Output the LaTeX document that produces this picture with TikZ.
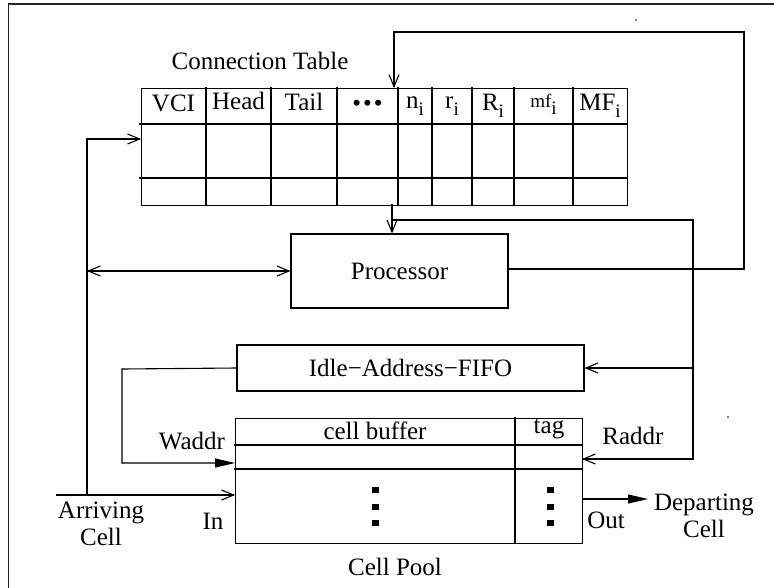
\documentclass[tikz,border=0pt]{standalone}
\usepackage{fontspec}
\setmainfont{Liberation Serif}
\usetikzlibrary{arrows.meta}
\tikzset{
  ln/.style={line width=1.1pt, line cap=rect},
  oarr/.style={ln, -{Straight Barb[length=12pt,width=10pt,line width=1.1pt]}},
  farr/.style={ln, -{Triangle[length=20pt,width=9pt]}},
  box/.style={draw, line width=1.1pt, inner sep=0pt},
  lbl/.style={font=\fontsize{25}{27}\selectfont, inner sep=0pt},
  sq/.style={fill=black},
}
\newcommand{\sbi}{\raisebox{-7pt}{\fontsize{19}{20}\selectfont i}}
\begin{document}
\begin{tikzpicture}[x=1pt,y=-1pt]
\useasboundingbox (0,0) rectangle (774,587);
\clip (0,0) rectangle (774,587);
% outer frame
\draw[line width=1.4pt, black!85] (8.5,600) -- (8.5,4) -- (790,4);

% connection table
\node[box, minimum width=486pt, minimum height=117pt, anchor=north west] (ct) at (141,88) {};
\draw[ln] (140,124) -- (627,124);
\draw[ln] (140,178) -- (627,178);
\foreach \x in {206,271,337,398,432,472,514,573} \draw[ln] (\x,88) -- (\x,205);
\node[lbl] (ctl) at (260,61) {Connection Table};
\node[lbl] (h1) at (173.5,103) {VCI};
\node[lbl] (h2) at (238.5,101) {Head};
\node[lbl] (h3) at (304,102) {Tail};
\node[lbl] (h4) at (367.5,106) {\textbullet\hspace{2pt}\textbullet\hspace{2pt}\textbullet};
\node[lbl] (h5) at (415,106) {n\sbi};
\node[lbl] (h6) at (452,106) {r\sbi};
\node[lbl] (h7) at (493,106) {R\sbi};
\node[lbl] (h8) at (543.5,104) {{\fontsize{19}{20}\selectfont mf}\sbi};
\node[lbl] (h9) at (600,106) {MF\sbi};

% processor
\node[box, minimum width=217pt, minimum height=74pt, lbl] (proc) at (399.5,271) {Processor};
% idle fifo
\node[box, minimum width=347pt, minimum height=46pt, lbl] (idle) at (410.5,368) {Idle{\char"2212}Address{\char"2212}FIFO};
% cell pool
\node[box, minimum width=347pt, minimum height=125pt, anchor=north west] (pool) at (235,418) {};
\draw[ln] (235,445) -- (582,445);
\draw[ln] (235,469) -- (582,469);
\draw[ln] (515,418) -- (515,543);
\node[lbl] (cb) at (375,431) {cell buffer};
\node[lbl] (tag) at (549,429) {tag};
\foreach \y in {490,507,523} {
  \fill (371.5,\y-3) rectangle (378.5,\y+3);
  \fill (546.5,\y-3) rectangle (553.5,\y+3);
}
\node[lbl] (cp) at (395,567) {Cell Pool};

% coordinates
\coordinate (ctin) at (141,139);
\coordinate (ctout) at (392,205);
\coordinate (ctfb) at (394,88);
\coordinate (lt) at (87,139);
\coordinate (lb) at (87,495);
\coordinate (arrS) at (57,495);
\coordinate (poolin) at (235,495);
\coordinate (lmid) at (87,271);
\coordinate (tr) at (744,32);
\coordinate (tl) at (394,32);
\coordinate (pr) at (744,269);
\coordinate (rtop) at (693,220);
\coordinate (rjoin) at (392,220);
\coordinate (rmid) at (693,368);
\coordinate (rbot) at (693,459);
\coordinate (poolr) at (582,459);
\coordinate (wa) at (122,369);
\coordinate (wb) at (122,463);
\coordinate (poolw) at (235,463);
\coordinate (outS) at (584,499);
\coordinate (outE) at (648,499);

% connectors
\draw[oarr] (proc.east |- pr) -- (pr) -- (tr) -- (tl) -- (ctfb);
\draw[oarr] (ctout) -- (proc.north -| ctout);
\draw[ln] (rtop) -- (rjoin);
\draw[oarr] (rtop) -- (rbot) -- (poolr);
\draw[oarr] (rmid) -- (idle.east);
\draw[oarr] (lb) -- (lt) -- (ctin);
\draw[ln, {Straight Barb[length=12pt,width=10pt,line width=1.1pt]}-{Straight Barb[length=12pt,width=10pt,line width=1.1pt]}] (lmid) -- (proc.west |- lmid);
\draw[oarr] (arrS) -- (poolin);
\draw[farr] (idle.west) -- (wa) -- (wb) -- (poolw);
\draw[farr] (outS) -- (outE);

% labels
\node[lbl] (wl) at (192,441) {Waddr};
\node[lbl] (rl) at (633,436) {Raddr};
\node[lbl] (inl) at (213,521) {In};
\node[lbl] (outl) at (606,520) {Out};
\node[lbl, align=center] (arl) at (101,524) {Arriving\\Cell};
\node[lbl, align=center] (dpl) at (704,516) {Departing\\Cell};

% stray dots
\fill (636,20) circle (0.8);
\fill (728,417) circle (0.8);
\fill (401,572) circle (0.8);
\end{tikzpicture}
\end{document}
